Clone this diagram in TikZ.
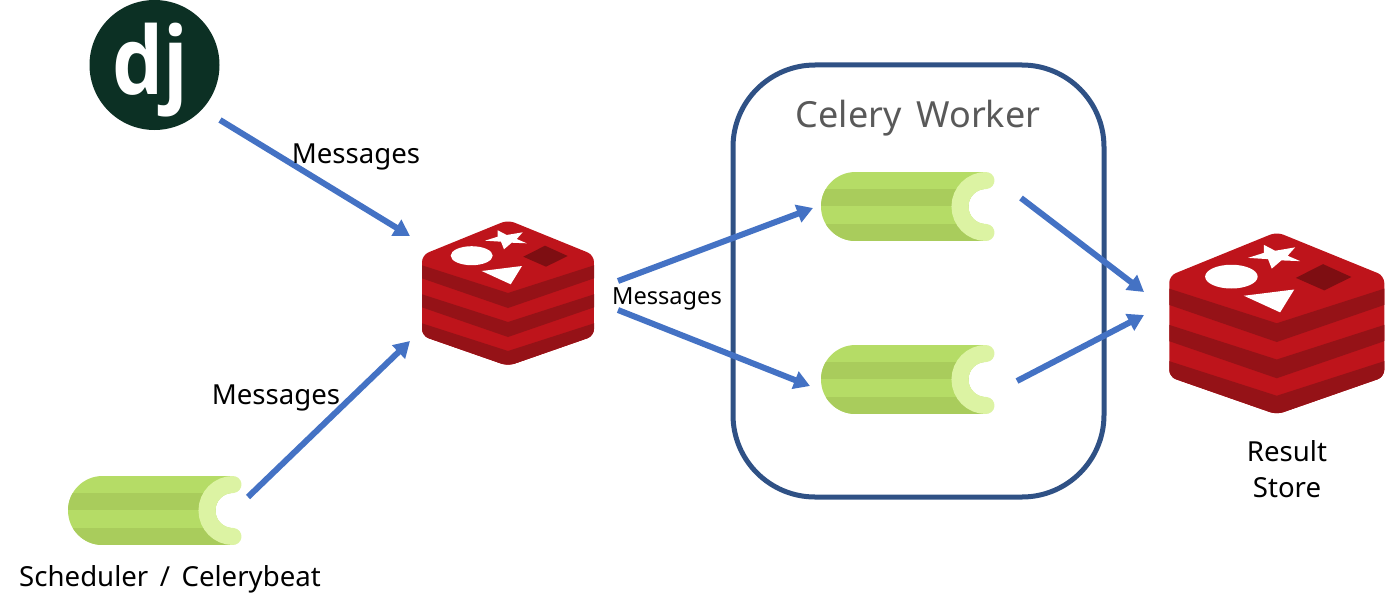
\documentclass[tikz,border=0pt]{standalone}
\usepackage{fontspec}
\setmainfont{Noto Sans}
\newfontfamily\logofont{Open Sans}
\newfontfamily\spacedfont[WordSpace=1.6]{Noto Sans}
\usetikzlibrary{arrows.meta}
\definecolor{msgblue}{HTML}{4472C4}
\definecolor{frameblue}{HTML}{2F5185}
\definecolor{djgreen}{HTML}{0C3024}
\definecolor{stalklight}{HTML}{B5DC66}
\definecolor{stalkdark}{HTML}{A9CC5C}
\definecolor{stalkend}{HTML}{DCF3A3}
\definecolor{redisface}{HTML}{BE141B}
\definecolor{redisside}{HTML}{951217}
\definecolor{redishole}{HTML}{7E0E12}
\tikzset
{
	msg/.style = {-{Triangle[length=16pt,width=18pt]}, line width=6pt, msgblue},
	msglabel/.style = {font=\fontsize{27.6}{32}\selectfont, inner sep=0pt},
	smalllabel/.style = {font=\fontsize{23.6}{28}\selectfont, inner sep=0pt},
	caption/.style = {font=\spacedfont\fontsize{27.6}{36}\selectfont, inner sep=0pt, align=center},
	redis/.pic = {
		\begin{scope}
			\clip[rounded corners=7pt] (1,35) -- (87,0) -- (173,35) -- (173,116) -- (87,146) -- (1,116) -- cycle;
			\fill[redisface] (0,0) rectangle (174,147);
			\foreach \dy in {0,29,58} {
				\fill[redisside] (0,45+\dy) -- (87,73+\dy) -- (174,45+\dy) -- (174,58+\dy) -- (87,88+\dy) -- (0,58+\dy) -- cycle;
			}
		\end{scope}
		\fill[white] (50.7,35.7) ellipse[x radius=21pt, y radius=9.5pt];
		\fill[white] (76.7,10.3) -- (85.7,15) -- (101.7,12.3) -- (95.7,19) -- (105.7,23.3) -- (90.7,22.7) -- (83,29.3) -- (80,21.7) -- (64,20.7) -- (76.7,16.7) -- cycle;
		\fill[white] (60.7,51) -- (101,46) -- (89.7,64.3) -- cycle;
		\fill[redishole] (102.3,36.7) -- (124,25.7) -- (146.7,36) -- (125,46.7) -- cycle;
	},
	celery/.pic = {
		\begin{scope}
			\clip (34.5,0) arc[start angle=90, end angle=270, radius=34.5pt] -- (165,69) -- (165,0) -- cycle;
			\fill[stalklight] (0,0) rectangle (165,69);
			\fill[stalkdark] (0,17) rectangle (165,34);
			\fill[stalkdark] (0,52) rectangle (165,69);
		\end{scope}
		\fill[white] (165,17) arc[start angle=90, end angle=270, radius=17.5pt] -- (180,52) -- (180,17) -- cycle;
		\draw[stalkend, line width=17pt, line cap=round] (165,8.5) arc[start angle=90, end angle=270, radius=26pt];
	}
}

\begin{document}
\begin{tikzpicture}[x=1pt,y=-1pt]
\useasboundingbox (0,0) rectangle (1386,610);

% worker frame
\node[draw=frameblue, line width=5pt, rounded corners=82pt, minimum width=371pt, minimum height=432pt] (workerbox) at (918.5,281) {};
\node[font=\spacedfont\fontsize{36}{44}\selectfont, text=black!65, inner sep=0pt] (workertitle) at (918,118) {Celery Worker};

% logos
\node[circle, fill=djgreen, minimum size=130pt, inner sep=0pt] (django) at (154.5,65) {};
\node[text=white, inner sep=0pt, xscale=0.86, transform shape, font=\logofont\bfseries\fontsize{94}{100}\selectfont] (djangotext) at (150,70) {dj};
\pic at (421,220) {redis};
\pic[scale=1.25] at (1168,232) {redis};
\pic at (68,476) {celery};
\pic at (821,172) {celery};
\pic at (821,345) {celery};

% connector ends
\coordinate (djangoout) at (220,120);
\coordinate (brokerinA) at (410,236);
\coordinate (beatout) at (248,497);
\coordinate (brokerinB) at (410,341);
\coordinate (brokeroutA) at (618,281);
\coordinate (workerinA) at (813,208);
\coordinate (brokeroutB) at (618,310);
\coordinate (workerinB) at (810,386);
\coordinate (workeroutA) at (1021,198);
\coordinate (resultinA) at (1144,292);
\coordinate (workeroutB) at (1017,381);
\coordinate (resultinB) at (1144,315);

\draw[msg] (djangoout) -- (brokerinA);
\draw[msg] (beatout) -- (brokerinB);
\draw[msg] (brokeroutA) -- (workerinA);
\draw[msg] (brokeroutB) -- (workerinB);
\draw[msg] (workeroutA) -- (resultinA);
\draw[msg] (workeroutB) -- (resultinB);

% labels
\node[msglabel] (msgdjango) at (356,157) {Messages};
\node[msglabel] (msgbeat) at (276,398) {Messages};
\node[smalllabel] (msgbroker) at (667,299) {Messages};
\node[caption] (beatlabel) at (170,579) {Scheduler / Celerybeat};
\node[caption] (resultlabel) at (1287,469) {Result\\Store};
\end{tikzpicture}
\end{document}
